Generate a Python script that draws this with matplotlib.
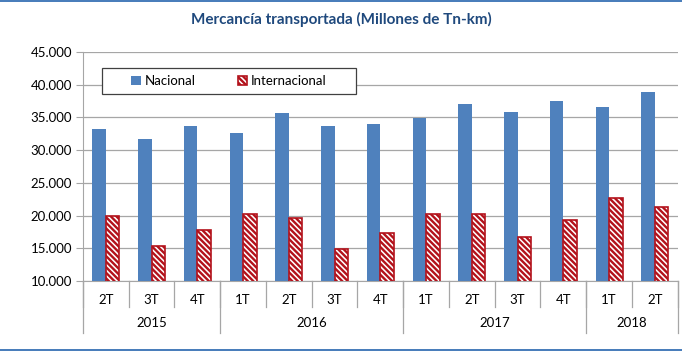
import matplotlib
matplotlib.use("Agg")
import matplotlib.pyplot as plt
import matplotlib.transforms as mtransforms
import numpy as np

plt.rcParams['font.family'] = ['Lato', 'DejaVu Sans']
plt.rcParams['hatch.linewidth'] = 1.7

trimestres = ["2T", "3T", "4T", "1T", "2T", "3T", "4T", "1T", "2T", "3T", "4T", "1T", "2T"]
anios = ["2015", "2016", "2017", "2018"]
trim_por_anio = [3, 4, 4, 2]
nacional = [33300, 31700, 33650, 32650, 35700, 33650, 34000, 34950, 37100, 35850, 37550, 36550, 38900]
internacional = [19900, 15300, 17750, 20300, 19600, 14900, 17300, 20200, 20300, 16800, 19250, 22750, 21350]

azul = "#4F81BD"
rojo = "#B3121B"
gris = "#A6A6A6"

fig = plt.figure(figsize=(6.82, 3.51), dpi=100)
ax = fig.add_axes([0.1217, 0.1994, 0.872, 0.6526])

x = np.arange(len(trimestres))
w = 0.295
ax.bar(x - w / 2, nacional, w, color=azul, label="Nacional", zorder=3)
ax.bar(x + w / 2, internacional, w, color="white", edgecolor=rojo, hatch="\\\\\\\\\\\\",
       linewidth=1.2, label="Internacional", zorder=3)

ax.set_ylim(10000, 45000)
ax.set_xlim(-0.5, len(x) - 0.5)
ax.set_yticks(np.arange(10000, 45001, 5000))
ax.set_yticklabels([f"{v:,}".replace(",", ".") for v in range(10000, 45001, 5000)])
ax.grid(axis="y", color=gris, linewidth=0.9, zorder=0)
for s in ["top", "right"]:
    ax.spines[s].set_visible(False)
ax.spines["left"].set_color(gris)
ax.spines["bottom"].set_color(gris)
ax.tick_params(axis="y", length=5, color=gris, labelsize=9.5, pad=3)
ax.tick_params(axis="x", length=0, labelsize=9.5, pad=9)
ax.set_xticks(x)
ax.set_xticklabels(trimestres)

# separadores del eje doble
tr = mtransforms.blended_transform_factory(ax.transData, ax.transAxes)
for b in np.arange(-0.5, len(x), 1.0):
    ax.plot([b, b], [0, -0.115], transform=tr, color=gris, lw=0.9, clip_on=False)
pos = -0.5
for anio, n in zip(anios, trim_por_anio):
    ax.plot([pos, pos], [0, -0.225], transform=tr, color=gris, lw=0.9, clip_on=False)
    ax.text(pos + n / 2, -0.185, anio, transform=tr, ha="center", va="center", fontsize=9.5)
    pos += n
ax.plot([pos, pos], [0, -0.225], transform=tr, color=gris, lw=0.9, clip_on=False)

# caja de la leyenda
caja = plt.Rectangle((0.032, 0.817), 0.427, 0.113, transform=ax.transAxes,
                     facecolor="white", edgecolor="#404040", lw=0.9, zorder=5)
ax.add_patch(caja)
leg = ax.legend(loc="center", bbox_to_anchor=(0.2455, 0.8735), ncol=2, fontsize=9.5,
                frameon=False, handlelength=0.7, handleheight=0.7,
                columnspacing=3.2, handletextpad=0.3)
leg.set_zorder(6)

fig.text(0.5, 0.945, "Mercancía transportada (Millones de Tn-km)", ha="center",
         va="center", fontsize=11, fontweight="bold", color="#1F497D")

# bandas azules del marco
fig.add_artist(plt.Rectangle((0, 0.993), 1, 0.007, transform=fig.transFigure,
                             color="#4A7EBB", lw=0))
fig.add_artist(plt.Rectangle((0, 0), 1, 0.007, transform=fig.transFigure,
                             color="#4A7EBB", lw=0))

fig.savefig("out.png", dpi=100)
